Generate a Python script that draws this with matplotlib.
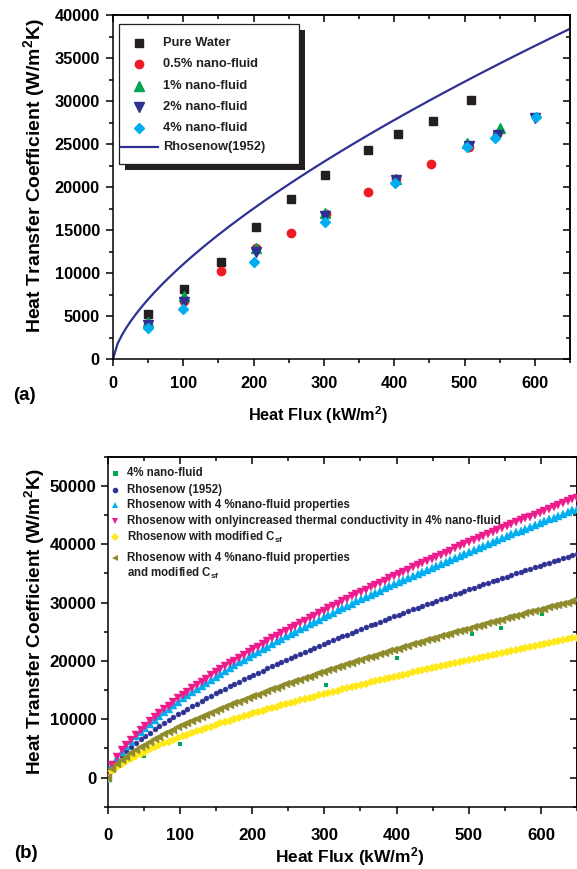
import numpy as np
import matplotlib
matplotlib.use("Agg")
import matplotlib.pyplot as plt
from matplotlib.patches import Rectangle
from matplotlib.ticker import MultipleLocator

plt.rcParams['font.family'] = ['Liberation Sans', 'DejaVu Sans']
plt.rcParams['font.weight'] = 'bold'
plt.rcParams['mathtext.fontset'] = 'custom'
plt.rcParams['mathtext.rm'] = 'Liberation Sans:bold'
plt.rcParams['mathtext.bf'] = 'Liberation Sans:bold'
plt.rcParams['mathtext.it'] = 'Liberation Sans:bold'

# ---- measured boiling data (heat flux kW/m^2, HTC W/m^2K) ----
pure_q = [50, 101, 153, 203, 253, 302, 363, 405, 455, 509]
pure_h = [5230, 8170, 11310, 15350, 18570, 21450, 24340, 26200, 27710, 30120]

nf05_q = [50, 101, 153, 203, 253, 303, 362, 403, 453, 507, 546]
nf05_h = [3950, 6780, 10270, 12870, 14620, 16830, 19380, 20930, 22670, 24620, 26200]

nf1_q = [50, 101, 203, 302, 403, 503, 550]
nf1_h = [4260, 7330, 12900, 16940, 20900, 25080, 26900]

nf2_q = [50, 101, 203, 302, 403, 507, 547, 600]
nf2_h = [3900, 6590, 12480, 16630, 20800, 24800, 26050, 28000]

nf4_q = [50, 100, 201, 302, 401, 504, 544, 602]
nf4_h = [3640, 5780, 11310, 15890, 20430, 24650, 25700, 28100]

# ---- Rohsenow-type correlations: h grows as q^(2/3) ----
corr_q = np.linspace(0, 650, 101)
corr_exponent = 2.0 / 3.0
# HTC of each correlation at q = 650 kW/m^2
h650_rohsenow = 38400
h650_nf_props = 46100
h650_k_only = 48000
h650_mod_csf = 24000
h650_props_mod_csf = 30400


def correlation(h650):
    return h650 * (corr_q / 650.0) ** corr_exponent


C_BLACK = '#231F20'
C_RED = '#ED1C24'
C_GREEN = '#00A651'
C_NAVY = '#2E3192'
C_CYAN = '#00AEEF'
C_MAGENTA = '#EC1C8C'
C_YELLOW = '#FFE91A'
C_OLIVE = '#8F8C2C'

W, H = 577, 869
fig = plt.figure(figsize=(W / 100, H / 100), dpi=100)


def axes_px(left, right, top, bottom):
    return fig.add_axes([left / W, 1 - bottom / H, (right - left) / W, (bottom - top) / H])


def style_axes(ax, xmaj, xmin, ymaj, ymin, xpad, ypad, lsize):
    for s in ax.spines.values():
        s.set_linewidth(1.1)
    ax.xaxis.set_major_locator(MultipleLocator(xmaj))
    ax.xaxis.set_minor_locator(MultipleLocator(xmin))
    ax.yaxis.set_major_locator(MultipleLocator(ymaj))
    ax.yaxis.set_minor_locator(MultipleLocator(ymin))
    ax.tick_params(which='major', direction='out', length=5, width=1.1,
                   labelsize=lsize)
    ax.tick_params(which='minor', direction='out', length=2.6, width=1.1)
    ax.tick_params(axis='x', pad=xpad)
    ax.tick_params(axis='y', pad=ypad)
    # inward ticks on the top and right frame
    top = ax.secondary_xaxis('top')
    top.xaxis.set_major_locator(MultipleLocator(xmaj))
    top.xaxis.set_minor_locator(MultipleLocator(xmin))
    top.tick_params(which='major', direction='in', length=5, width=1.1, labeltop=False)
    top.tick_params(which='minor', direction='in', length=2.6, width=1.1)
    top.spines['top'].set_linewidth(1.1)
    right = ax.secondary_yaxis('right')
    right.yaxis.set_major_locator(MultipleLocator(ymaj))
    right.yaxis.set_minor_locator(MultipleLocator(ymin))
    right.tick_params(which='major', direction='in', length=5, width=1.1, labelright=False)
    right.tick_params(which='minor', direction='in', length=2.6, width=1.1)
    right.spines['right'].set_linewidth(1.1)


# ================= panel (a) =================
ax1 = axes_px(113, 570, 15, 359)
ax1.set_xlim(0, 650)
ax1.set_ylim(0, 40000)

ax1.plot(pure_q, pure_h, 's', color=C_BLACK, ms=5.2, zorder=3)
ax1.plot(nf05_q, nf05_h, 'o', color=C_RED, ms=6, zorder=3)
ax1.plot(nf1_q, nf1_h, '^', color=C_GREEN, ms=6.5, zorder=3)
ax1.plot(nf2_q, nf2_h, 'v', color=C_NAVY, ms=6.5, zorder=3)
ax1.plot(nf4_q, nf4_h, 'D', color=C_CYAN, ms=5.2, zorder=3)
ax1.plot(corr_q, correlation(h650_rohsenow), '-', color=C_NAVY, lw=1.6, zorder=2)

style_axes(ax1, 100, 50, 5000, 2500, 7, 4.5, 11.8)
for lab in ax1.get_xticklabels() + ax1.get_yticklabels():
    lab.set_fontweight('bold')
ax1.set_xlabel('Heat Flux (kW/m$^2$)', fontsize=11.7, fontweight='bold')
ax1.xaxis.label.set_verticalalignment('center')
ax1.xaxis.set_label_coords(0.4486, -0.1628)
ax1.set_ylabel('Heat Transfer Coefficient (W/m$^2$K)', fontsize=14, fontweight='bold')
ax1.yaxis.label.set_verticalalignment('center')
ax1.yaxis.set_label_coords(-0.173, 0.533)


# legend box with solid drop shadow
def fx1(x):
    return (x - 113) / 457.0


def fy1(y):
    return (359 - y) / 344.0


ax1.add_patch(Rectangle((fx1(124.5), fy1(169.5)), fx1(304.5) - fx1(124.5),
                        fy1(29.5) - fy1(169.5), transform=ax1.transAxes,
                        facecolor='#231F20', edgecolor='none', zorder=5))
ax1.add_patch(Rectangle((fx1(119.3), fy1(164)), fx1(299.3) - fx1(119.3),
                        fy1(24.3) - fy1(164), transform=ax1.transAxes,
                        facecolor='white', edgecolor='#231F20', lw=0.9, zorder=6))
legend_a = [
    ('s', C_BLACK, 5.2, 'Pure Water', 43),
    ('o', C_RED, 6, '0.5% nano-fluid', 64),
    ('^', C_GREEN, 6.5, '1% nano-fluid', 85.7),
    ('v', C_NAVY, 6.5, '2% nano-fluid', 106.7),
    ('D', C_CYAN, 5.2, '4% nano-fluid', 127.7),
]
for mk, col, ms, lab, ypx in legend_a:
    ax1.plot([fx1(139.3)], [fy1(ypx)], mk, color=col, ms=ms,
             transform=ax1.transAxes, zorder=7, clip_on=False)
    ax1.text(fx1(163.3), fy1(ypx), lab, transform=ax1.transAxes, fontsize=9.3,
             fontweight='bold', va='center', ha='left', color=C_BLACK, zorder=7)
ax1.plot([fx1(120.7), fx1(158.3)], [fy1(146.7)] * 2, '-', color=C_NAVY, lw=1.6,
         transform=ax1.transAxes, zorder=7)
ax1.text(fx1(163.3), fy1(146.7), 'Rhosenow(1952)', transform=ax1.transAxes,
         fontsize=9.3, fontweight='bold', va='center', ha='left', color=C_BLACK, zorder=7)

fig.text(24 / W, 1 - 395 / H, '(a)', fontsize=13.5, fontweight='bold',
         ha='center', va='center')

# ================= panel (b) =================
ax2 = axes_px(107.7, 577.1, 456.7, 806.7)
ax2.set_xlim(0, 650)
ax2.set_ylim(-5000, 55000)

ax2.plot(nf4_q, nf4_h, 's', color=C_GREEN, ms=3.4, mew=0, zorder=3)
ax2.plot(corr_q, correlation(h650_rohsenow), 'o', color=C_NAVY, ms=3.5,
         mew=0.4, zorder=3)
ax2.plot(corr_q, correlation(h650_nf_props), '^', color=C_CYAN, ms=5.2,
         mew=0.3, zorder=3)
ax2.plot(corr_q, correlation(h650_k_only), 'v', color=C_MAGENTA, ms=5.2,
         mew=0.3, zorder=3)
ax2.plot(corr_q, correlation(h650_mod_csf), 'D', color=C_YELLOW, ms=4.0,
         mew=0.3, zorder=3)
ax2.plot(corr_q, correlation(h650_props_mod_csf), '<', color=C_OLIVE, ms=5.2,
         mew=0.3, zorder=3)

style_axes(ax2, 100, 50, 10000, 5000, 10, 3, 12.2)
ax2.set_yticks([0, 10000, 20000, 30000, 40000, 50000])
for lab in ax2.get_xticklabels() + ax2.get_yticklabels():
    lab.set_fontweight('bold')
ax2.set_xlabel('Heat Flux (kW/m$^2$)', fontsize=12.5, fontweight='bold')
ax2.xaxis.label.set_verticalalignment('center')
ax2.xaxis.set_label_coords(0.516, -0.142)
ax2.set_ylabel('Heat Transfer Coefficient (W/m$^2$K)', fontsize=13.7, fontweight='bold')
ax2.yaxis.label.set_verticalalignment('center')
ax2.yaxis.set_label_coords(-0.155, 0.529)


def fx2(x):
    return (x - 107.7) / 469.4


def fy2(y):
    return (806.7 - y) / 350.0


legend_b = [
    ('s', C_GREEN, 3.6, '4% nano-fluid', 473.3),
    ('o', C_NAVY, 4.0, 'Rhosenow (1952)', 490),
    ('^', C_CYAN, 5.0, 'Rhosenow with 4 %nano-fluid properties', 505),
    ('v', C_MAGENTA, 5.0, 'Rhosenow with onlyincreased thermal conductivity in 4% nano-fluid', 521),
    ('D', C_YELLOW, 4.0, r'Rhosenow with modified C$_{\mathrm{sf}}$', 537),
    ('<', C_OLIVE, 5.0, 'Rhosenow with 4 %nano-fluid properties', 558),
]
for mk, col, ms, lab, ypx in legend_b:
    ax2.plot([fx2(115)], [fy2(ypx)], mk, color=col, ms=ms, mew=0,
             transform=ax2.transAxes, zorder=7)
    ax2.text(fx2(126.7), fy2(ypx), lab, transform=ax2.transAxes, fontsize=8.3,
             fontweight='bold', va='center', ha='left', color=C_BLACK, zorder=7)
ax2.text(fx2(126.7), fy2(573), r'and modified C$_{\mathrm{sf}}$', transform=ax2.transAxes,
         fontsize=8.3, fontweight='bold', va='center', ha='left', color=C_BLACK, zorder=7)

fig.text(26 / W, 1 - 853 / H, '(b)', fontsize=13.5, fontweight='bold',
         ha='center', va='center')

fig.savefig('out.png', dpi=100)
